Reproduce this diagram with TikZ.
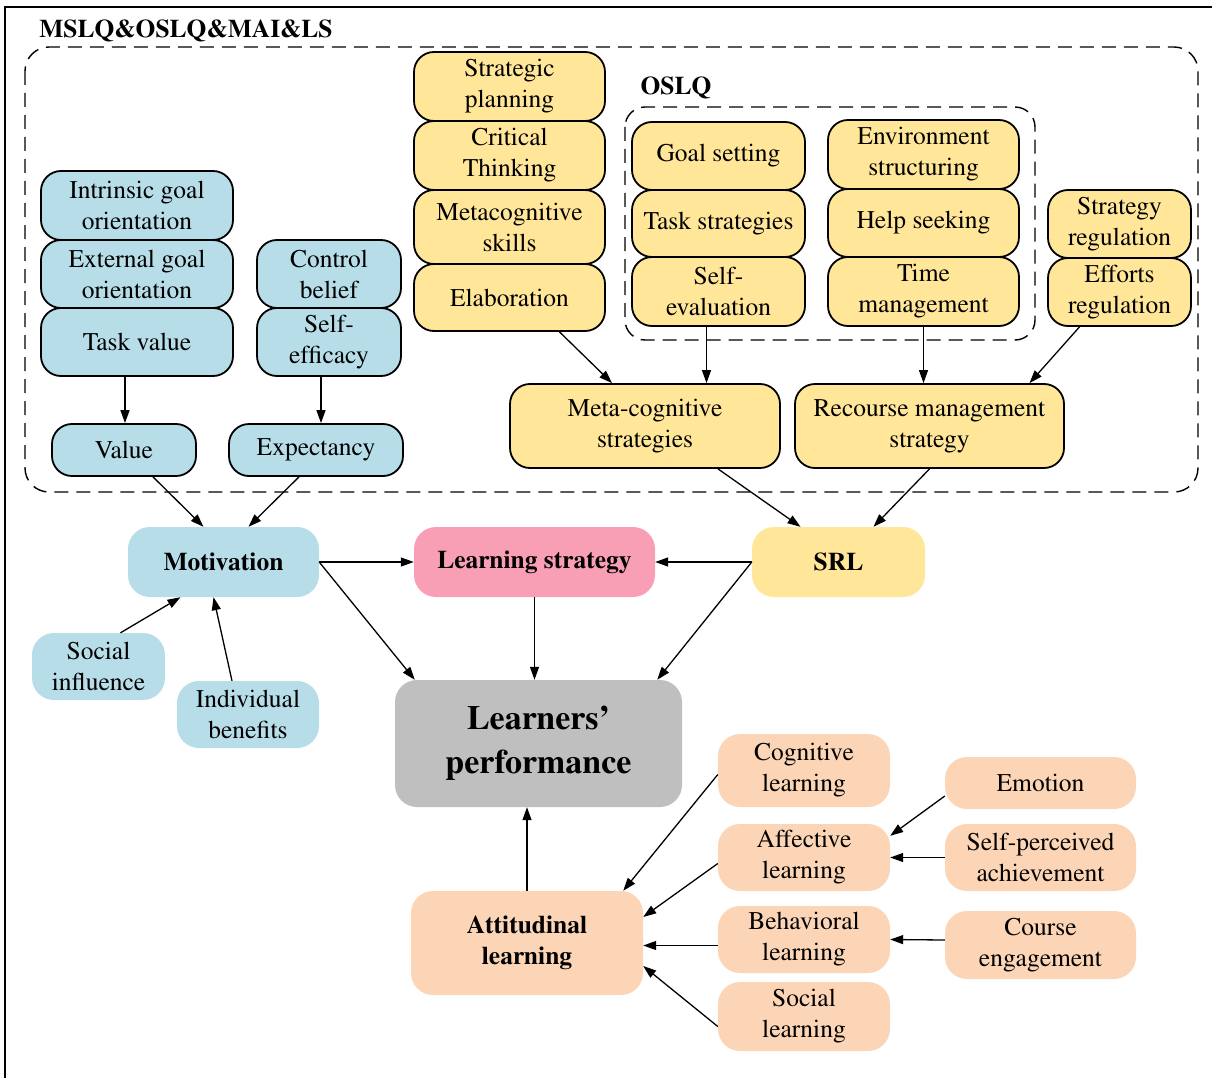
\documentclass[tikz,border=0pt]{standalone}
\usepackage[T1]{fontenc}
\renewcommand{\rmdefault}{ptm}
\usepackage{tikz}
\usetikzlibrary{arrows.meta}
\definecolor{skyb}{HTML}{B7DDE8}
\definecolor{sand}{HTML}{FFE699}
\definecolor{rose}{HTML}{F99FB5}
\definecolor{peach}{HTML}{FBD5B5}
\definecolor{greyb}{HTML}{BFBFBF}

\begin{document}
\begin{tikzpicture}[x=1pt,y=-1pt,
        box/.style={rounded corners=22pt,align=center,inner sep=1pt,font=\fontsize{25.5}{31}\selectfont},
        edged/.style={box,draw,line width=1.8pt,rounded corners=20pt},
        bold/.style={box,font=\fontsize{25.5}{31}\selectfont\bfseries},
        sz/.style 2 args={minimum width=#1pt,minimum height=#2pt},
        arr/.style={-{Triangle[length=13pt,width=9pt]},line width=1.3pt},
        grp/.style={dash pattern=on 14pt off 8pt,line width=1.4pt,rounded corners=24pt}]
            \useasboundingbox (0,0) rectangle (1212,1078);
            \draw[line width=1.5pt] (5,1078) -- (5,7) -- (1212,7);

            \node[font=\fontsize{25.5}{31}\selectfont\bfseries] (ttl) at (186,31) {MSLQ\&OSLQ\&MAI\&LS};
            \draw[grp] (25,47) rectangle (1198,492);
            \node[font=\fontsize{25.5}{31}\selectfont\bfseries] (oslq) at (676,88) {OSLQ};
            \draw[grp,rounded corners=20pt] (625,107) rectangle (1035,340);

            \node[edged,fill=skyb,sz={192}{69}] (ig) at (137,205.5) {Intrinsic goal\\orientation};
            \node[edged,fill=skyb,sz={192}{68}] (eg) at (137,274) {External goal\\orientation};
            \node[edged,fill=skyb,sz={192}{68}] (tv) at (137,342) {Task value};
            \node[edged,fill=skyb,sz={144}{68}] (cb) at (329,274) {Control\\belief};
            \node[edged,fill=skyb,sz={144}{68}] (se) at (329,342) {Self-\\efficacy};
            \node[edged,fill=skyb,sz={144}{52}] (val) at (124,450) {Value};
            \node[edged,fill=skyb,sz={174}{52}] (exp) at (316,450) {Expectancy};

            \node[edged,fill=sand,sz={191}{69}] (sp) at (509.5,86.5) {Strategic\\planning};
            \node[edged,fill=sand,sz={191}{69}] (ct) at (509.5,155.5) {Critical\\Thinking};
            \node[edged,fill=sand,sz={191}{74}] (ms) at (509.5,227) {Metacognitive\\skills};
            \node[edged,fill=sand,sz={191}{67}] (el) at (509.5,297.5) {Elaboration};
            \node[edged,fill=sand,sz={173}{68}] (gs) at (718.5,156) {Goal setting};
            \node[edged,fill=sand,sz={173}{67}] (ts) at (718.5,223.5) {Task strategies};
            \node[edged,fill=sand,sz={173}{69}] (sev) at (718.5,291.5) {Self-\\evaluation};
            \node[edged,fill=sand,sz={191}{69}] (es) at (923.5,154.5) {Environment\\structuring};
            \node[edged,fill=sand,sz={191}{68}] (hs) at (923.5,223) {Help seeking};
            \node[edged,fill=sand,sz={191}{69}] (tm) at (923.5,291.5) {Time\\management};
            \node[edged,fill=sand,sz={143}{68}] (sr) at (1119.5,224) {Strategy\\regulation};
            \node[edged,fill=sand,sz={143}{68}] (er) at (1119.5,292) {Efforts\\regulation};
            \node[edged,fill=sand,sz={270}{84}] (mcs) at (645,426) {Meta-cognitive\\strategies};
            \node[edged,fill=sand,sz={269}{84}] (rms) at (929.5,426) {Recourse management\\strategy};

            \node[bold,fill=skyb,sz={191}{70}] (mot) at (223.5,562) {Motivation};
            \node[bold,fill=rose,sz={241}{70}] (ls) at (534.5,562) {Learning strategy};
            \node[bold,fill=sand,sz={173}{70}] (srl) at (838.5,562) {SRL};
            \node[box,fill=skyb,sz={133}{67}] (si) at (98.5,666.5) {Social\\influence};
            \node[box,fill=skyb,sz={142}{67}] (ib) at (248,714.5) {Individual\\benefits};
            \node[box,fill=greyb,sz={287}{127},font=\fontsize{34}{44}\selectfont\bfseries] (lp) at (538.5,743.5) {Learners'\\performance};
            \node[bold,fill=peach,sz={232}{104}] (al) at (527,943) {Attitudinal\\learning};

            \node[box,fill=peach,sz={172}{73}] (cl) at (804,770.5) {Cognitive\\learning};
            \node[box,fill=peach,sz={172}{67}] (afl) at (804,857.5) {Affective\\learning};
            \node[box,fill=peach,sz={172}{67}] (bl) at (804,939.5) {Behavioral\\learning};
            \node[box,fill=peach,sz={172}{69}] (sl) at (804,1016.5) {Social\\learning};
            \node[box,fill=peach,sz={191}{52}] (em) at (1040.5,783) {Emotion};
            \node[box,fill=peach,sz={191}{67}] (spa) at (1040.5,857.5) {Self-perceived\\achievement};
            \node[box,fill=peach,sz={191}{68}] (ce) at (1040.5,945) {Course\\engagement};

            \draw[arr] ([xshift=-12pt]tv.south) -- ([xshift=-12pt]tv.south |- val.north);
            \draw[arr] ([xshift=-8pt]se.south) -- ([xshift=-8pt]se.south |- exp.north);
            \draw[arr] ([xshift=50pt]el.south) -- ([xshift=-33pt]mcs.north);
            \draw[arr] ([xshift=-12pt]sev.south) -- ([xshift=-12pt]sev.south |- mcs.north);
            \draw[arr] (tm.south) -- (tm.south |- rms.north);
            \draw[arr] ([xshift=-40pt]er.south) -- ([xshift=100pt]rms.north);
            \draw[arr] ([xshift=73pt]mcs.south) -- ([xshift=-38pt]srl.north);
            \draw[arr] (rms.south) -- ([xshift=35pt]srl.north);
            \draw[arr] ([xshift=29pt]val.south) -- ([xshift=-20pt]mot.north);
            \draw[arr] ([xshift=-17pt]exp.south) -- ([xshift=25pt]mot.north);

            \draw[arr] (mot.east) -- (ls.west);
            \draw[arr] (srl.west) -- (ls.east);
            \draw[arr] (mot.east) -- ([xshift=20pt]lp.north west);
            \draw[arr] (ls.south) -- (ls.south |- lp.north);
            \draw[arr] (srl.west) -- ([xshift=-25pt]lp.north east);
            \draw[arr] ([xshift=22pt]si.north) -- ([xshift=-43pt]mot.south);
            \draw[arr] ([xshift=-16pt]ib.north) -- ([xshift=-10pt]mot.south);
            \draw[arr] (al.north) -- (al.north |- lp.south);

            \draw[arr] ([yshift=-4pt]cl.west) -- ([xshift=-20pt]al.north east);
            \draw[arr] ([yshift=-6pt]afl.west) -- ([yshift=26pt]al.east);
            \draw[arr] ([yshift=-6pt]bl.west) -- ([yshift=-6pt]bl.west -| al.east);
            \draw[arr] ([yshift=-10pt]sl.west) -- ([yshift=-23pt]al.east);
            \draw[arr] ([yshift=-13pt]em.west) -- ([yshift=-12pt]afl.north east);
            \draw[arr] (spa.west) -- (afl.east);
            \draw[arr] ([yshift=5pt]ce.west) -- (bl.east);
        \end{tikzpicture}
\end{document}
